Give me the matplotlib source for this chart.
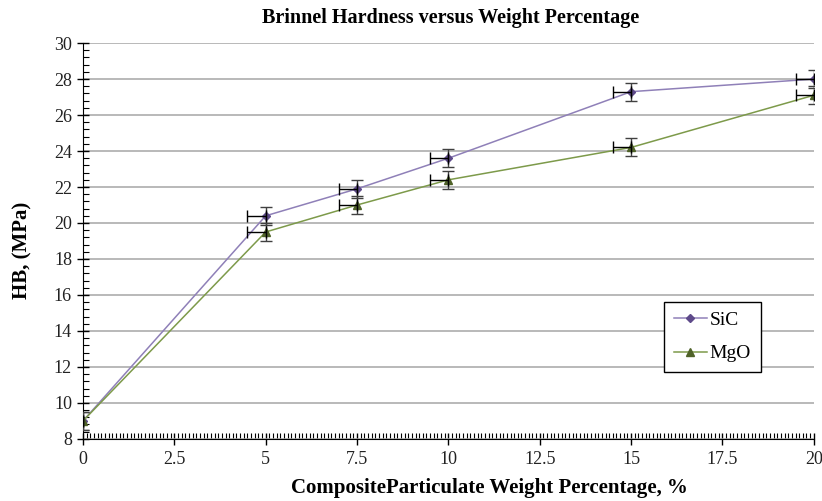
import numpy as np
import matplotlib
matplotlib.use("Agg")
import matplotlib.pyplot as plt
from matplotlib.ticker import MultipleLocator

# ── Data ─────────────────────────────────────────────────────────────────────
weight_pct = [0, 5, 7.5, 10, 15, 20]
sic_hb = [9.0, 20.4, 21.9, 23.6, 27.3, 28.0]
mgo_hb = [9.0, 19.5, 21.0, 22.4, 24.2, 27.1]
y_err = [0.5, 0.5, 0.5, 0.5, 0.5, 0.5]
x_err_minus = [0.5, 0.5, 0.5, 0.5, 0.5, 0.5]
x_err_plus = [0, 0, 0, 0, 0, 0]

plt.rcParams["font.family"] = ["Liberation Serif", "DejaVu Serif"]

fig = plt.figure(figsize=(8.22, 5.01), dpi=100, facecolor="white")
ax = fig.add_axes([0.101, 0.124, 0.889, 0.790])

series = [
    ("SiC", sic_hb, "#8f80b8", "#5e4a8a", "D", 4.5),
    ("MgO", mgo_hb, "#7d9a4a", "#4f6228", "^", 6),
]
for name, vals, lc, mc, mk, ms in series:
    ax.plot(weight_pct, vals, color=lc, lw=1.1, marker=mk, ms=ms,
            mfc=mc, mec=mc, label=name, zorder=4)
    # vertical error bars (dark grey)
    ax.errorbar(weight_pct, vals, yerr=y_err, fmt="none", ecolor="#404040",
                elinewidth=1.0, capsize=4, capthick=1.0, zorder=5)
    # horizontal error bars, minus side only (black)
    ax.errorbar(weight_pct, vals, xerr=[x_err_minus, x_err_plus], fmt="none",
                ecolor="black", elinewidth=1.0, capsize=4, capthick=1.0, zorder=5)

ax.set_xlim(0, 20)
ax.set_ylim(8, 30)
ax.xaxis.set_major_locator(MultipleLocator(2.5))
ax.xaxis.set_minor_locator(MultipleLocator(0.1))
ax.yaxis.set_major_locator(MultipleLocator(2))
ax.yaxis.set_minor_locator(MultipleLocator(0.4))
ax.xaxis.set_major_formatter(plt.FuncFormatter(lambda v, _: f"{v:g}"))

ax.yaxis.grid(True, which="major", color="#a6a6a6", lw=1.1)
ax.set_axisbelow(True)
for s in ["top", "right"]:
    ax.spines[s].set_visible(False)
ax.tick_params(which="major", direction="inout", length=8, width=1, labelsize=13,
               colors="black", labelcolor="#222222", pad=4)
ax.tick_params(which="minor", direction="in", length=4, width=0.8, colors="black")
ax.tick_params(axis="x", which="major", pad=5)

fig.text(0.548, 0.964, "Brinnel Hardness versus Weight Percentage",
         ha="center", va="center", fontsize=14.5, fontweight="bold")
fig.text(0.596, 0.025, "CompositeParticulate Weight Percentage, %",
         ha="center", va="center", fontsize=15, fontweight="bold")
fig.text(0.027, 0.500, "HB, (MPa)", ha="center", va="center",
         rotation=90, fontsize=15, fontweight="bold")

leg = ax.legend(loc="upper left", bbox_to_anchor=(0.795, 0.346), fontsize=14,
                frameon=True, fancybox=False, edgecolor="black", framealpha=1,
                handlelength=1.7, handletextpad=0.15, borderpad=0.5,
                labelspacing=0.8, borderaxespad=0)
leg.get_frame().set_linewidth(1.0)

plt.savefig("out.png", dpi=100, facecolor="white")
